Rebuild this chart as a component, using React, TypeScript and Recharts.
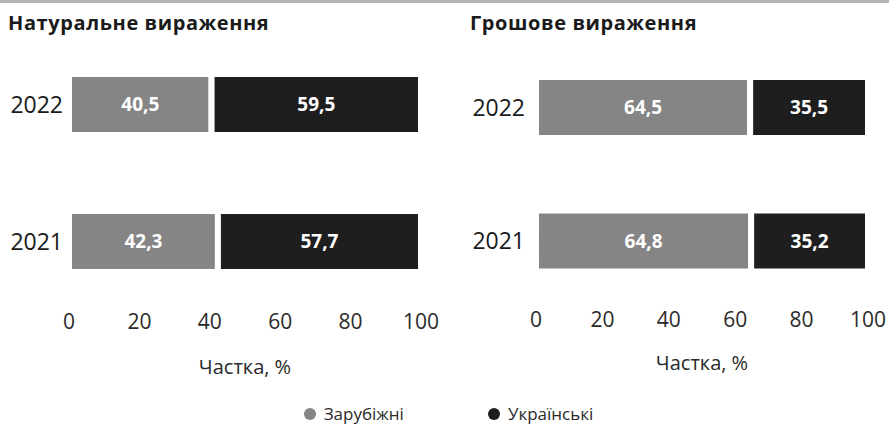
import { BarChart, Bar, XAxis, YAxis, LabelList } from "recharts";

const years = ["2022", "2021"];
const naturalForeign = [40.5, 42.3];
const naturalDomestic = [59.5, 57.7];
const moneyForeign = [64.5, 64.8];
const moneyDomestic = [35.5, 35.2];
const seriesNames = ["Зарубіжні", "Українські"];
const seriesColors = ["#858585", "#1e1e1e"];
const xTicks = [0, 20, 40, 60, 80, 100];
const axisTitle = "Частка, %";

const FONT = "'Segoe UI', 'Open Sans', 'Noto Sans', sans-serif";

const naturalData = years.map((year, i) => ({
  year,
  foreign: naturalForeign[i],
  domestic: naturalDomestic[i],
}));

const moneyData = years.map((year, i) => ({
  year,
  foreign: moneyForeign[i],
  domestic: moneyDomestic[i],
}));

const fmt = (v: any) => String(v).replace(".", ",");

function Panel({
  title,
  data,
  left,
  width,
  yWidth,
  margin,
  tickGap,
  titleLeft,
  labelOffset,
}: {
  title: string;
  data: any[];
  left: number;
  width: number;
  yWidth: number;
  margin: any;
  tickGap: number;
  titleLeft: number;
  labelOffset: number;
}) {
  return (
    <div style={{ position: "absolute", left, top: 0, width, height: 380 }}>
      <div
        style={{
          position: "absolute",
          left: titleLeft,
          top: 9,
          fontSize: 20,
          fontWeight: 700,
          letterSpacing: 0.6,
          color: "#1a1a1a",
          whiteSpace: "nowrap",
        }}
      >
        {title}
      </div>
      <BarChart
        width={width}
        height={380}
        data={data}
        layout="vertical"
        margin={margin}
        barSize={61}
      >
        <XAxis
          type="number"
          domain={[0, 100]}
          ticks={xTicks}
          tickLine={false}
          axisLine={false}
          tickSize={0}
          tickMargin={4}
          height={30}
          tick={{ fill: "#2a2a2a", fontSize: 21, fontFamily: FONT }}
          label={{
            value: axisTitle,
            position: "bottom",
            offset: labelOffset,
            fill: "#2a2a2a",
            fontSize: 20,
            fontFamily: FONT,
          }}
        />
        <YAxis
          type="category"
          dataKey="year"
          width={yWidth}
          tickLine={false}
          axisLine={false}
          tickSize={0}
          tickMargin={tickGap}
          tick={{ fill: "#1a1a1a", fontSize: 23, fontFamily: FONT }}
        />
        <Bar
          dataKey="foreign"
          stackId="a"
          fill={seriesColors[0]}
          stroke="#fff"
          strokeWidth={6}
          isAnimationActive={false}
        >
          <LabelList
            dataKey="foreign"
            position="center"
            formatter={fmt}
            fill="#fff"
            fontSize={19}
            fontWeight={700}
            fontFamily={FONT}
          />
        </Bar>
        <Bar
          dataKey="domestic"
          stackId="a"
          fill={seriesColors[1]}
          stroke="#fff"
          strokeWidth={6}
          isAnimationActive={false}
        >
          <LabelList
            dataKey="domestic"
            position="center"
            formatter={fmt}
            fill="#fff"
            fontSize={19}
            fontWeight={700}
            fontFamily={FONT}
          />
        </Bar>
      </BarChart>
    </div>
  );
}

export default function App() {
  return (
    <div
      style={{
        position: "absolute",
        left: 0,
        top: 0,
        width: 889,
        height: 434,
        background: "#fff",
        fontFamily: FONT,
        overflow: "hidden",
      }}
    >
      <div
        style={{
          position: "absolute",
          left: 0,
          top: 0,
          width: 889,
          height: 3,
          background: "#b5b5b5",
        }}
      />
      <Panel
        title="Натуральне вираження"
        data={naturalData}
        left={0}
        width={445}
        yWidth={69}
        margin={{ top: 36, right: 24, bottom: 40, left: 0 }}
        tickGap={6}
        titleLeft={8}
        labelOffset={20}
      />
      <Panel
        title="Грошове вираження"
        data={moneyData}
        left={445}
        width={444}
        yWidth={91}
        margin={{ top: 41, right: 21, bottom: 42, left: 0 }}
        tickGap={11}
        titleLeft={25}
        labelOffset={18}
      />
      <div
        style={{
          position: "absolute",
          top: 402,
          left: 4,
          width: 889,
          display: "flex",
          justifyContent: "center",
          gap: 84,
          fontSize: 17,
          color: "#2a2a2a",
        }}
      >
        {seriesNames.map((name, i) => (
          <div key={name} style={{ display: "flex", alignItems: "center" }}>
            <span
              style={{
                display: "inline-block",
                width: 12,
                height: 12,
                borderRadius: "50%",
                background: seriesColors[i],
                marginRight: 8,
              }}
            />
            {name}
          </div>
        ))}
      </div>
    </div>
  );
}
